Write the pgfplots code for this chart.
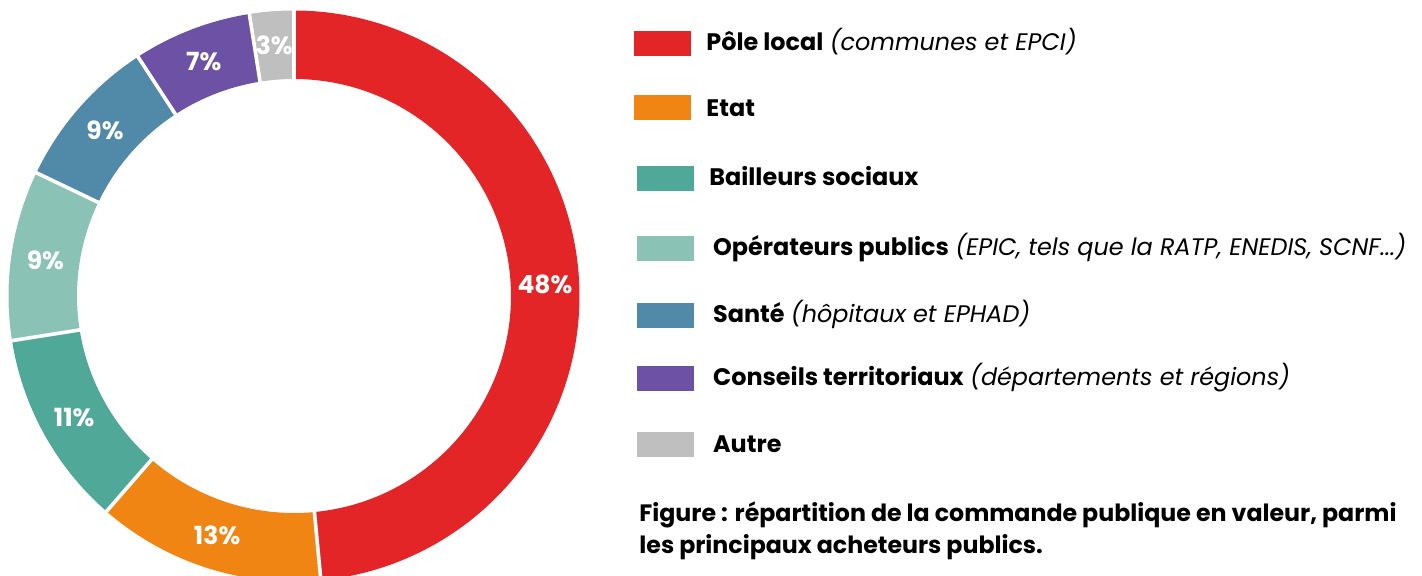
\documentclass[border=0pt]{standalone}
\usepackage{fontspec}
\setmainfont{Poppins}
\usepackage{pgfplots}
\usepackage{pgfplotstable}
\pgfplotsset{compat=1.18}
\definecolor{c1}{RGB}{228,37,40}
\definecolor{c2}{RGB}{241,133,19}
\definecolor{c3}{RGB}{80,168,152}
\definecolor{c4}{RGB}{139,194,182}
\definecolor{c5}{RGB}{81,137,168}
\definecolor{c6}{RGB}{108,81,165}
\definecolor{c7}{RGB}{191,191,191}
\newcommand\labfont{\fontsize{12.5}{14}\selectfont\bfseries}
\newcommand\legfont{\fontsize{11.95}{14}\selectfont}
\newcommand\capfont{\fontsize{11.85}{14}\selectfont\bfseries}
% shares of public procurement (percent), clockwise from the top
\pgfplotstableread{
val pct
48.5 48
12.9 13
11.1 11
9.6 9
8.7 9
6.7 7
2.5 3
}\shares
\begin{document}
\begin{tikzpicture}
\begin{axis}[width=711pt,height=288pt,scale only axis,
  xmin=0,xmax=1422,ymin=0,ymax=576,hide axis,clip mode=individual]
\coordinate (bl) at (axis cs:0,0);
\coordinate (tr) at (axis cs:1422,576);
\pgfplotstablegetrowsof{\shares}
\pgfmathtruncatemacro{\nrows}{\pgfplotsretval-1}
\def\cum{0}
\pgfplotsforeachungrouped \i in {0,...,\nrows}{%
  \pgfplotstablegetelem{\i}{val}\of\shares \let\v\pgfplotsretval
  \pgfplotstablegetelem{\i}{pct}\of\shares \let\p\pgfplotsretval
  \pgfmathsetmacro{\as}{90-3.6*\cum}%
  \pgfmathsetmacro{\ae}{90-3.6*(\cum+\v)}%
  \pgfmathsetmacro{\am}{(\as+\ae)/2}%
  \pgfmathsetmacro{\lx}{294+251.25*cos(\am)}%
  \pgfmathsetmacro{\ly}{280+251.25*sin(\am)}%
  \pgfmathtruncatemacro{\ci}{\i+1}%
  \edef\temp{\noexpand\addplot[draw=c\ci, line width=34.25pt, domain=\ae:\as, samples=120] ({294+251.25*cos(x)},{280+251.25*sin(x)});
  \noexpand\node[text=white,inner sep=0pt,font=\noexpand\labfont] at (axis cs:\lx,\ly) {\p\noexpand\%};}%
  \temp
  \pgfmathsetmacro{\cum}{\cum+\v}%
}
\def\cum{0}
\pgfplotsforeachungrouped \i in {0,...,\nrows}{%
  \pgfplotstablegetelem{\i}{val}\of\shares \let\v\pgfplotsretval
  \pgfmathsetmacro{\b}{90-3.6*\cum}%
  \pgfmathsetmacro{\xa}{294+213*cos(\b)}%
  \pgfmathsetmacro{\ya}{280+213*sin(\b)}%
  \pgfmathsetmacro{\xb}{294+290*cos(\b)}%
  \pgfmathsetmacro{\yb}{280+290*sin(\b)}%
  \edef\temp{\noexpand\addplot[white, line width=1.8pt] coordinates {(\xa,\ya) (\xb,\yb)};}%
  \temp
  \pgfmathsetmacro{\cum}{\cum+\v}%
}
% legend
\fill[c1] (axis cs:634,520) rectangle (axis cs:691,545);
\fill[c2] (axis cs:634,456) rectangle (axis cs:691,481);
\fill[c3] (axis cs:637,385) rectangle (axis cs:694,410);
\fill[c4] (axis cs:637,315) rectangle (axis cs:694,340);
\fill[c5] (axis cs:637,248) rectangle (axis cs:694,273);
\fill[c6] (axis cs:637,185) rectangle (axis cs:694,210);
\fill[c7] (axis cs:637,119) rectangle (axis cs:694,144);
\node[anchor=base west,inner sep=0pt,font=\legfont] at (axis cs:706,525.3) {\textbf{Pôle local} \textit{(communes et EPCI)}};
\node[anchor=base west,inner sep=0pt,font=\legfont] at (axis cs:706,459.3) {\textbf{Etat}};
\node[anchor=base west,inner sep=0pt,font=\legfont] at (axis cs:709,390.3) {\textbf{Bailleurs sociaux}};
\node[anchor=base west,inner sep=0pt,font=\legfont] at (axis cs:712.7,320.5) {\textbf{Opérateurs publics} \textit{(EPIC, tels que la RATP, ENEDIS, SCNF...)}};
\node[anchor=base west,inner sep=0pt,font=\legfont] at (axis cs:712.7,253) {\textbf{Santé} \textit{(hôpitaux et EPHAD)}};
\node[anchor=base west,inner sep=0pt,font=\legfont] at (axis cs:712.7,190) {\textbf{Conseils territoriaux} \textit{(départements et régions)}};
\node[anchor=base west,inner sep=0pt,font=\legfont] at (axis cs:712.7,123.3) {\textbf{Autre}};
\node[anchor=base west,inner sep=0pt,font=\capfont] at (axis cs:639,54.3) {Figure : répartition de la commande publique en valeur, parmi};
\node[anchor=base west,inner sep=0pt,font=\capfont] at (axis cs:639,22.7) {les principaux acheteurs publics.};
\end{axis}
\pgfresetboundingbox
\useasboundingbox (bl) rectangle (tr);
\end{tikzpicture}
\end{document}
